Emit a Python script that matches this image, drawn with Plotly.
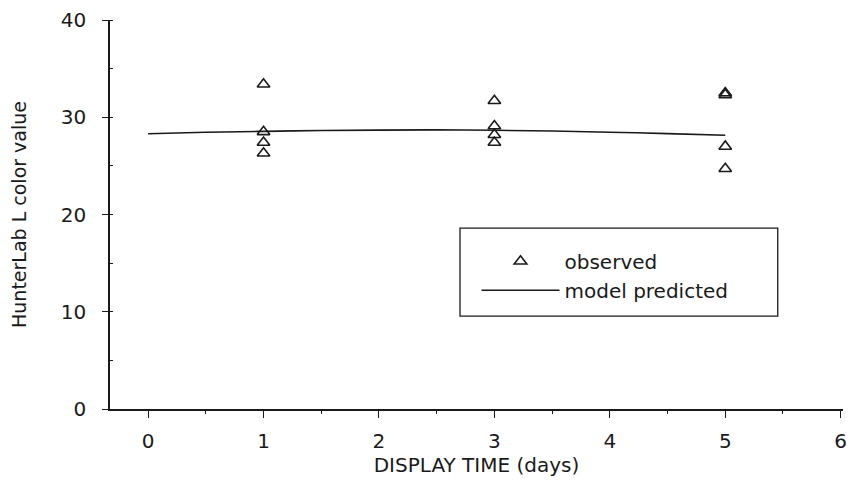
import plotly.graph_objects as go

# Observed HunterLab L values
obs_days = [1, 1, 1, 1, 3, 3, 3, 3, 5, 5, 5, 5]
obs_L = [33.4, 28.5, 27.4, 26.3, 31.7, 29.1, 28.2, 27.4, 32.5, 32.3, 27.0, 24.7]

# Model-predicted curve
model_days = [0, 0.5, 1, 1.5, 2, 2.5, 3, 3.5, 4, 4.5, 5]
model_L = [28.3, 28.45, 28.55, 28.63, 28.68, 28.7, 28.66, 28.58, 28.46, 28.32, 28.15]

x_ticks = [0, 1, 2, 3, 4, 5, 6]
y_ticks = [0, 10, 20, 30, 40]

FONT = "DejaVu Sans"
INK = "#1a1a1a"

fig = go.Figure()
fig.add_trace(go.Scatter(
    x=obs_days, y=obs_L, mode="markers", name="observed",
    marker=dict(symbol="triangle-up-open", size=11, color=INK, line=dict(width=1.6, color=INK)),
))
fig.add_trace(go.Scatter(
    x=model_days, y=model_L, mode="lines", name="model predicted",
    line=dict(color=INK, width=1.6, shape="spline"),
))

fig.update_layout(
    width=854, height=491,
    margin=dict(l=102, r=19, t=12, b=90),
    paper_bgcolor="white", plot_bgcolor="white",
    font=dict(family=FONT, size=17, color=INK),
    showlegend=True,
    legend=dict(
        x=0.50, y=0.43, xanchor="left", yanchor="top",
        bgcolor="rgba(0,0,0,0)", borderwidth=0,
        font=dict(size=20, color=INK), itemwidth=78, tracegroupgap=0,
    ),
    shapes=[dict(
        type="rect", xref="paper", yref="paper",
        x0=0.4775, x1=0.911, y0=0.239, y1=0.465,
        line=dict(color=INK, width=1.3), fillcolor="rgba(0,0,0,0)",
    )],
)

fig.update_xaxes(
    range=[-0.33, 6.02], tickvals=x_ticks, automargin=False,
    showgrid=False, zeroline=False,
    showline=True, linecolor=INK, linewidth=1.6,
    ticks="outside", ticklen=7, tickwidth=1.3, tickcolor=INK,
    minor=dict(dtick=0.5, tick0=0, ticks="outside", ticklen=3, tickcolor=INK, tickwidth=1),
    tickfont=dict(size=20, color=INK), ticklabelstandoff=6,
    ticklabeloverflow="allow",
    title=dict(text="DISPLAY TIME (days)", font=dict(size=20, color=INK), standoff=6),
)
fig.update_yaxes(
    range=[0, 40], tickvals=y_ticks, automargin=False,
    showgrid=False, zeroline=False,
    showline=True, linecolor=INK, linewidth=1.6,
    ticks="outside", ticklen=6, tickwidth=1.3, tickcolor=INK,
    minor=dict(dtick=5, tick0=0, ticks="inside", ticklen=3, tickcolor=INK, tickwidth=1),
    tickfont=dict(size=20, color=INK), ticklabelstandoff=12,
    ticklabeloverflow="allow",
    title=dict(text="HunterLab L color value", font=dict(size=19, color=INK), standoff=32),
)

fig.write_html("out.html")
